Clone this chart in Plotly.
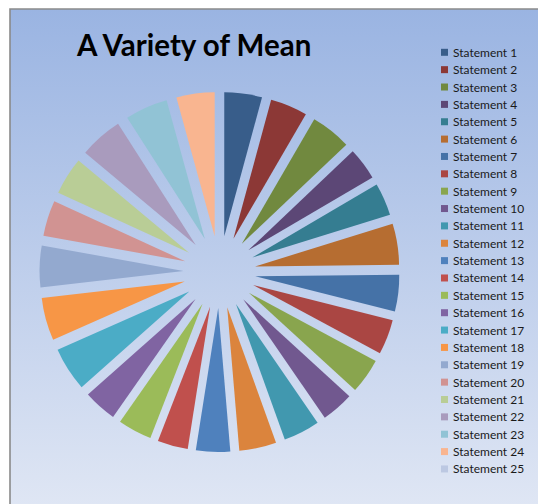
import plotly.graph_objects as go

# ---- data ----
labels = [f"Statement {i}" for i in range(1, 26)]
values = [3.65, 3.60, 3.91, 3.14, 3.17, 3.98, 3.55, 3.38, 3.41, 3.12,
          3.53, 3.60, 3.31, 2.95, 3.29, 3.22, 4.25, 4.15, 4.03, 3.48,
          3.65, 4.20, 4.13, 3.70, 0.0]
colors = ["#385D8A", "#8C3836", "#71893F", "#5C4776", "#357D91", "#B66D31",
          "#4572A7", "#AA4643", "#89A54E", "#71588F", "#4198AF", "#DB843D",
          "#4F81BD", "#C0504D", "#9BBB59", "#8064A2", "#4BACC6", "#F79646",
          "#93A9CF", "#D19392", "#B9CD96", "#A99BBD", "#91C3D5", "#F9B590",
          "#BCC8E2"]
title = "A Variety of Mean"

W, H = 538, 504
fig = go.Figure()

# background gradient of chart area (pixel coordinates on hidden axes)
fig.add_trace(go.Scatter(
    x=[10, 540, 540, 10, 10], y=[9, 9, 506, 506, 9],
    mode="lines", line=dict(width=0), fill="toself",
    fillgradient=dict(type="vertical",
                      colorscale=[[0, "#DFE6F4"], [1, "#9AB4E2"]]),
    hoverinfo="skip", showlegend=False))

# pie
cx, cy, R = 219.5, 272, 180
fig.add_trace(go.Pie(
    labels=labels, values=values, sort=False, direction="clockwise",
    rotation=0, pull=0.25, textinfo="none", hoverinfo="label+value",
    marker=dict(colors=colors, line=dict(width=0)),
    domain=dict(x=[(cx - R) / W, (cx + R) / W],
                y=[(H - cy - R) / H, (H - cy + R) / H]),
    showlegend=False))

shapes = [dict(type="path", xref="x", yref="y",
               path="M 10 506 L 10 9 L 540 9",
               line=dict(color="#8A8A8A", width=1.6))]
annotations = [dict(text=f"<b>{title}</b>", x=193.5, y=44, xref="x", yref="y",
                    showarrow=False, xanchor="center", yanchor="middle",
                    font=dict(family="Lato", size=29.5, color="#000000"))]

y0, dy = 52.3, 17.36
for i, (lab, col) in enumerate(zip(labels, colors)):
    yy = y0 + i * dy
    shapes.append(dict(type="rect", xref="x", yref="y",
                       x0=441, x1=448, y0=yy - 3.5, y1=yy + 3.5,
                       fillcolor=col, line=dict(width=0)))
    annotations.append(dict(text=lab, x=451, y=yy, xref="x", yref="y",
                            showarrow=False, xanchor="left", yanchor="middle",
                            font=dict(family="Lato", size=12, color="#1A1A1A")))

fig.update_layout(
    width=W, height=H, margin=dict(l=0, r=0, t=0, b=0),
    paper_bgcolor="white", plot_bgcolor="rgba(0,0,0,0)",
    xaxis=dict(range=[0, W], visible=False, fixedrange=True),
    yaxis=dict(range=[H, 0], visible=False, fixedrange=True),
    shapes=shapes, annotations=annotations)

fig.write_html("out.html")
